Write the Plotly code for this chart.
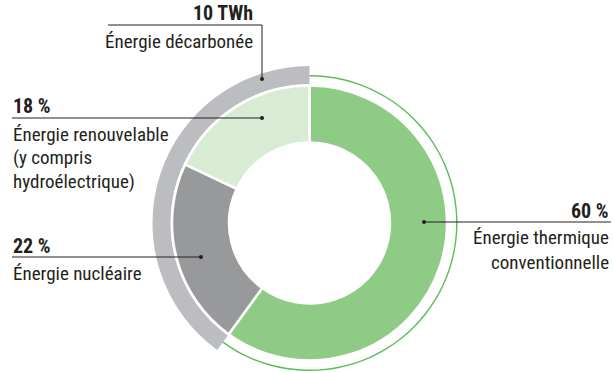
import plotly.graph_objects as go

# data
labels = ["Énergie thermique conventionnelle", "Énergie nucléaire",
          "Énergie renouvelable (y compris hydroélectrique)"]
shares = [60, 22, 18]
decarb_twh = 10
decarb_share = shares[1] + shares[2]

W, H = 614, 380
FONT = "Liberation Sans Narrow, Roboto Condensed, Arial Narrow, sans-serif"
colors = {
    'thermique': '#8ecb85',
    'nucleaire': '#98999b',
    'renouvelable': '#d7ecd3',
    'ring': '#bcbdc0',
    'line': '#5dbd57',
    'ink': '#231f20',
}

CX, CY = 309.5, 223  # donut centre in pixels (from top-left)


def dom(r):
    return dict(x=[(CX - r) / W, (CX + r) / W],
                y=[(H - CY - r) / H, (H - CY + r) / H])


def px(x, y):
    return x / W, 1 - y / H


fig = go.Figure()

# outer grey ring for the low-carbon part
fig.add_trace(go.Pie(
    values=[shares[0], decarb_share], sort=False, direction='clockwise',
    hole=139 / 157, domain=dom(157), textinfo='none', hoverinfo='skip',
    marker=dict(colors=['rgba(0,0,0,0)', colors['ring']], line=dict(width=0)),
    showlegend=False,
))

# thin green arc around thermal part
fig.add_trace(go.Pie(
    values=[shares[0], decarb_share], sort=False, direction='clockwise',
    hole=146.6 / 148, domain=dom(148), textinfo='none', hoverinfo='skip',
    marker=dict(colors=[colors['line'], 'rgba(0,0,0,0)'], line=dict(width=0)),
    showlegend=False,
))

# main donut
fig.add_trace(go.Pie(
    labels=labels, values=shares, sort=False, direction='clockwise',
    hole=0.585, domain=dom(137.5), textinfo='none', hoverinfo='label+percent',
    marker=dict(colors=[colors['thermique'], colors['nucleaire'], colors['renouvelable']],
                line=dict(color='white', width=2.5)),
    showlegend=False,
))

# leader lines (pixel positions) and the dot at the end of each
leaders = [
    ([(108, 25), (262, 25), (262, 79)], (262, 79)),
    ([(12, 118), (262, 118)], (262, 118)),
    ([(12, 257), (201, 257)], (201, 257)),
    ([(424, 222), (611, 222)], (424, 222)),
]
for pts, (ex, ey) in leaders:
    for (x0, y0), (x1, y1) in zip(pts[:-1], pts[1:]):
        a, b = px(x0, y0)
        c, d = px(x1, y1)
        fig.add_shape(type='line', xref='paper', yref='paper', x0=a, y0=b, x1=c, y1=d,
                      line=dict(color=colors['ink'], width=1))
    a, b = px(ex - 2, ey - 2)
    c, d = px(ex + 2, ey + 2)
    fig.add_shape(type='circle', xref='paper', yref='paper', x0=a, y0=b, x1=c, y1=d,
                  fillcolor=colors['ink'], line=dict(width=0))


def note(text, x, y, anchor, bold=False):
    xx, yy = px(x, y)
    fig.add_annotation(text=f"<b>{text}</b>" if bold else text, x=xx, y=yy,
                       xref='paper', yref='paper', xanchor=anchor, yanchor='middle',
                       showarrow=False, align=anchor,
                       font=dict(family=FONT, size=20 if bold else 19, color=colors['ink']))


note(f"{decarb_twh} TWh", 255, 13, 'right', bold=True)
note("Énergie décarbonée", 255, 41, 'right')
note(f"{shares[2]} %", 11, 106, 'left', bold=True)
note("Énergie renouvelable", 11, 134, 'left')
note("(y compris", 11, 158, 'left')
note("hydroélectrique)", 11, 182, 'left')
note(f"{shares[1]} %", 11, 246, 'left', bold=True)
note("Énergie nucléaire", 11, 273, 'left')
note(f"{shares[0]} %", 611, 211, 'right', bold=True)
note("Énergie thermique", 611, 238, 'right')
note("conventionnelle", 611, 262, 'right')

fig.update_layout(
    width=W, height=H,
    margin=dict(l=0, r=0, t=0, b=0),
    paper_bgcolor='white', plot_bgcolor='white',
    showlegend=False,
)

# drop the default page margin so the figure sits at the window's corner
fig.write_html("out.html", config={'displayModeBar': False},
               post_script="document.body.style.margin='0';document.body.style.overflow='hidden';")
